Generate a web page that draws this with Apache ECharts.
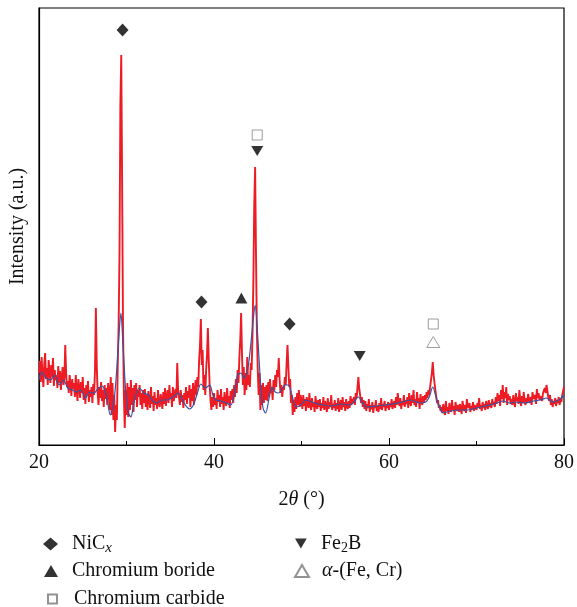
<!DOCTYPE html>
<html>
<head>
<meta charset="utf-8">
<script src="https://cdn.jsdelivr.net/npm/echarts/dist/echarts.min.js"></script>
<style>
    html, body { margin: 0; padding: 0; background: #fff; }
    #chartEcharts { width: 577px; height: 607px; }
</style>
</head>
<body>
<div id="chartEcharts"></div>
<script>
// XRD pattern, 2theta from 20 to 80 deg, red = measured, blue = smoothed
const redStart = 20;
const redStep = 0.1;
const redIntensity = [
    72, 84, 63, 88, 70, 58, 81, 92, 66, 77, 60, 85, 74, 62, 80, 68, 87, 59, 75, 65,
    70, 57, 79, 62, 74, 55, 68, 78, 60, 66, 100, 72, 58, 64, 52, 70, 61, 49, 66, 56,
    62, 48, 70, 55, 44, 66, 58, 47, 63, 52, 68, 45, 57, 41, 60, 50, 64, 43, 55, 48,
    58, 42, 61, 50, 75, 137, 80, 52, 40, 58, 47, 63, 44, 55, 38, 60, 46, 57, 40, 62,
    55, 35, 68, 30, 62, 25, 50, 13, 40, 25, 80, 120, 190, 340, 390, 260, 120, 50, 17, 55,
    30, 62, 28, 58, 35, 65, 40, 57, 33, 60, 45, 62, 38, 55, 48, 60, 40, 52, 36, 55,
    42, 56, 38, 50, 35, 54, 44, 37, 58, 41, 49, 34, 53, 40, 47, 36, 55, 42, 38, 51,
    45, 36, 53, 41, 57, 39, 48, 55, 42, 60, 46, 52, 38, 58, 44, 50, 56, 47, 82, 54,
    48, 40, 55, 43, 50, 37, 52, 45, 58, 41, 54, 47, 60, 38, 56, 44, 62, 40, 55, 65,
    50, 68, 58, 85, 100, 126, 80, 95, 55, 70, 50, 75, 90, 117, 85, 60, 45, 35, 48, 38,
    52, 40, 47, 36, 55, 43, 50, 38, 56, 41, 48, 35, 53, 44, 39, 57, 42, 49, 37, 54,
    45, 56, 42, 60, 48, 66, 52, 75, 62, 88, 105, 132, 90, 60, 78, 50, 72, 55, 88, 60,
    70, 58, 82, 75, 110, 165, 240, 278, 190, 115, 75, 50, 72, 35, 60, 40, 62, 42, 58, 45,
    60, 44, 63, 48, 66, 52, 58, 45, 65, 55, 70, 58, 75, 68, 87, 65, 52, 60, 48, 58,
    55, 68, 60, 82, 100, 78, 58, 66, 42, 50, 30, 45, 33, 48, 36, 52, 40, 55, 38, 50,
    44, 36, 50, 39, 46, 34, 48, 41, 37, 52, 40, 35, 47, 38, 43, 33, 49, 40, 36, 45,
    38, 46, 34, 42, 37, 48, 35, 44, 39, 33, 47, 36, 43, 38, 50, 35, 41, 37, 45, 34,
    42, 36, 47, 33, 40, 45, 35, 48, 38, 43, 34, 46, 39, 36, 44, 37, 49, 40, 46, 42,
    48, 40, 52, 47, 58, 68, 56, 50, 42, 48, 38, 45, 36, 44, 34, 41, 37, 46, 33, 40,
    36, 43, 32, 40, 37, 45, 34, 39, 33, 42, 36, 47, 35, 41, 38, 44, 34, 40, 37, 43,
    35, 42, 38, 46, 36, 41, 44, 37, 48, 40, 52, 43, 39, 47, 36, 44, 40, 50, 38, 45,
    41, 48, 37, 52, 44, 39, 50, 42, 55, 40, 46, 38, 53, 43, 47, 36, 51, 44, 40, 49,
    42, 50, 45, 53, 47, 55, 50, 58, 65, 72, 83, 70, 62, 55, 48, 42, 45, 37, 40, 34,
    38, 32, 41, 35, 30, 44, 34, 38, 31, 42, 36, 33, 45, 35, 39, 30, 43, 37, 34, 40,
    33, 41, 36, 31, 44, 38, 34, 40, 32, 46, 37, 35, 42, 33, 39, 36, 43, 34, 40, 38,
    35, 42, 38, 47, 36, 40, 34, 43, 37, 41, 35, 44, 39, 36, 45, 38, 42, 37, 46, 40,
    43, 38, 48, 41, 52, 44, 50, 39, 55, 46, 60, 42, 53, 47, 58, 40, 51, 45, 49, 41,
    46, 40, 50, 43, 38, 52, 44, 48, 41, 55, 45, 39, 49, 42, 53, 44, 40, 47, 43, 51,
    45, 42, 48, 40, 53, 46, 44, 50, 41, 56, 47, 52, 45, 49, 48, 44, 52, 50, 57, 52,
    60, 54, 48, 44, 50, 40, 46, 38, 44, 41, 47, 39, 45, 42, 48, 40, 46, 43, 50, 48, 58
];

const blueAngle = [
    20.0, 20.3, 20.8, 21.3, 21.8, 22.3, 22.8, 23.3, 23.8, 24.3, 24.8, 25.3, 25.8, 26.3, 26.7,
    27.2, 27.7, 28.15, 28.5, 28.8, 29.1, 29.36, 29.6, 29.9, 30.2, 30.5, 30.9, 31.45, 32.0, 32.5,
    33.0, 33.5, 34.0, 34.6, 35.3, 35.9, 36.5, 37.2, 37.7, 38.1, 38.5, 39.0, 39.5, 39.9, 40.2,
    40.8, 41.4, 41.9, 42.3, 42.7, 43.1, 43.4, 43.8, 44.2, 44.5, 44.7, 44.95, 45.3, 45.6, 45.9,
    46.3, 46.6, 47.0, 47.4, 47.8, 48.15, 48.5, 48.9, 49.4, 49.9, 50.5, 51.5, 52.5, 53.5, 54.5,
    55.5, 56.0, 56.5, 57.0, 57.5, 58.5, 59.5, 60.5, 61.5, 62.5, 63.5, 64.2, 64.6, 65.0, 65.4,
    65.8, 66.2, 67.0, 68.0, 69.0, 70.0, 71.0, 72.0, 73.0, 73.8, 74.5, 75.5, 76.5, 77.3, 78.0,
    78.7, 79.4, 80.0
];
const blueIntensity = [
    65, 73, 67, 65, 70, 60, 65, 57, 55, 53, 55, 47, 53, 52, 56,
    59, 50, 30, 40, 65, 105, 132, 100, 55, 33, 28, 45, 57, 52, 50,
    44, 42, 45, 45, 48, 52, 43, 36, 41, 52, 61, 57, 60, 49, 45,
    44, 42, 40, 50, 70, 72, 67, 73, 100, 127, 140, 115, 65, 37, 32,
    47, 58, 53, 52, 57, 60, 60, 50, 38, 40, 45, 42, 40, 39, 41,
    40, 43, 48, 42, 38, 39, 40, 41, 43, 45, 42, 43, 48, 58, 47,
    37, 32, 34, 35, 35, 37, 39, 41, 44, 42, 43, 42, 44, 45, 47,
    43, 45, 50
];

// peak markers: [2theta, height]
const nicxMarks = [[29.55, 415], [38.57, 143], [48.64, 121]];
const crBorideMarks = [[43.13, 147]];
const crCarbideMarks = [[44.94, 310], [65.06, 121]];
const fe2bMarks = [[44.94, 294], [56.65, 89]];
const alphaMarks = [[65.06, 103]];

const xTicks = [20, 40, 60, 80];

let myChart = echarts.init(document.getElementById('chartEcharts'));

let redData = redIntensity.map((v, i) => [+(redStart + i * redStep).toFixed(1), v]);
let blueData = blueAngle.map((a, i) => [a, blueIntensity[i]]);

const serif = '"Liberation Serif", "DejaVu Serif", serif';
const downTriangle = 'path://M0,0 L10,0 L5,8.5 Z';

const legendRich = {
    t: { fontFamily: serif, fontSize: 20, lineHeight: 22, color: '#111' },
    i: { fontFamily: serif, fontSize: 20, lineHeight: 22, fontStyle: 'italic', color: '#111' },
    s: { fontFamily: serif, fontSize: 15, lineHeight: 15, fontStyle: 'italic', color: '#111', padding: [9, 0, 0, 0] },
    n: { fontFamily: serif, fontSize: 14, lineHeight: 14, color: '#111', padding: [9, 0, 0, 0] }
};

function legendText(name) {
    if (name === 'NiCx') return '{t|NiC}{s|x}';
    if (name === 'Fe2B') return '{t|Fe}{n|2}{t|B}';
    if (name === 'alpha') return '{i|α}{t|-(Fe, Cr)}';
    return '{t|' + name + '}';
}

// one legend per entry so each row/column sits where it does in the figure
function legendItem(name, left, top, w, h, padLeft) {
    return {
        data: [name],
        left: left,
        top: top,
        itemWidth: w,
        itemHeight: h,
        formatter: legendText,
        selectedMode: false,
        textStyle: { padding: [0, 0, 0, padLeft], rich: legendRich }
    };
}

let option = {
    backgroundColor: '#fff',
    animation: false,
    grid: {
        left: 38,
        right: 9,
        top: 8,
        bottom: 162,
        show: true,
        borderColor: '#000',
        borderWidth: 1.2
    },
    legend: [
        legendItem('NiCx', 38, 527, 15, 13, 9),
        legendItem('Chromium boride', 39, 556, 14, 12, 9),
        legendItem('Chromium carbide', 42, 584, 9, 9, 12),
        legendItem('Fe2B', 290, 527, 12, 10, 9),
        legendItem('alpha', 289, 556, 14, 12, 8)
    ],
    xAxis: {
        type: 'value',
        min: 20,
        max: 80,
        interval: 20,
        name: '{n|2}{i|θ}{n| (°)}',
        nameLocation: 'middle',
        nameGap: 45,
        nameTextStyle: {
            rich: {
                n: { fontFamily: serif, fontSize: 20, color: '#111' },
                i: { fontFamily: serif, fontSize: 20, fontStyle: 'italic', color: '#111' }
            }
        },
        axisLine: { lineStyle: { color: '#000', width: 1.2 } },
        axisTick: { inside: true, length: 7, lineStyle: { color: '#000' } },
        minorTick: { show: true, splitNumber: 2, length: 4, lineStyle: { color: '#000' } },
        axisLabel: {
            margin: 8,
            fontFamily: serif,
            fontSize: 20,
            color: '#111',
            formatter: v => (xTicks.indexOf(v) >= 0 ? String(v) : '')
        },
        splitLine: { show: false }
    },
    yAxis: {
        type: 'value',
        min: 0,
        max: 437,
        name: 'Intensity (a.u.)',
        nameLocation: 'middle',
        nameGap: 11,
        nameTextStyle: { fontFamily: serif, fontSize: 20, color: '#111' },
        axisLine: { show: true, lineStyle: { color: '#000', width: 1.2 } },
        axisTick: { show: false },
        axisLabel: { show: false },
        splitLine: { show: false }
    },
    series: [
        {
            name: 'measured',
            type: 'line',
            data: redData,
            showSymbol: false,
            lineStyle: { color: '#ed1c24', width: 1.9 },
            z: 2
        },
        {
            name: 'smoothed',
            type: 'line',
            data: blueData,
            showSymbol: false,
            smooth: 0.3,
            lineStyle: { color: '#3953a4', width: 1.2 },
            z: 3
        },
        {
            name: 'NiCx',
            type: 'scatter',
            data: nicxMarks,
            symbol: 'diamond',
            symbolSize: [12, 13],
            itemStyle: { color: '#000' },
            z: 4
        },
        {
            name: 'Chromium boride',
            type: 'scatter',
            data: crBorideMarks,
            symbol: 'triangle',
            symbolSize: [12, 11],
            itemStyle: { color: '#000' },
            z: 4
        },
        {
            name: 'Chromium carbide',
            type: 'scatter',
            data: crCarbideMarks,
            symbol: 'rect',
            symbolSize: 10,
            itemStyle: { color: '#fff', borderColor: '#777', borderWidth: 0.9 },
            z: 4
        },
        {
            name: 'Fe2B',
            type: 'scatter',
            data: fe2bMarks,
            symbol: downTriangle,
            symbolSize: [12, 10],
            itemStyle: { color: '#000' },
            z: 4
        },
        {
            name: 'alpha',
            type: 'scatter',
            data: alphaMarks,
            symbol: 'triangle',
            symbolSize: [13, 11],
            itemStyle: { color: '#fff', borderColor: '#777', borderWidth: 0.9 },
            z: 4
        }
    ]
};

if (option && typeof option === "object") {
    myChart.setOption(option, true);
}
</script>
</body>
</html>
